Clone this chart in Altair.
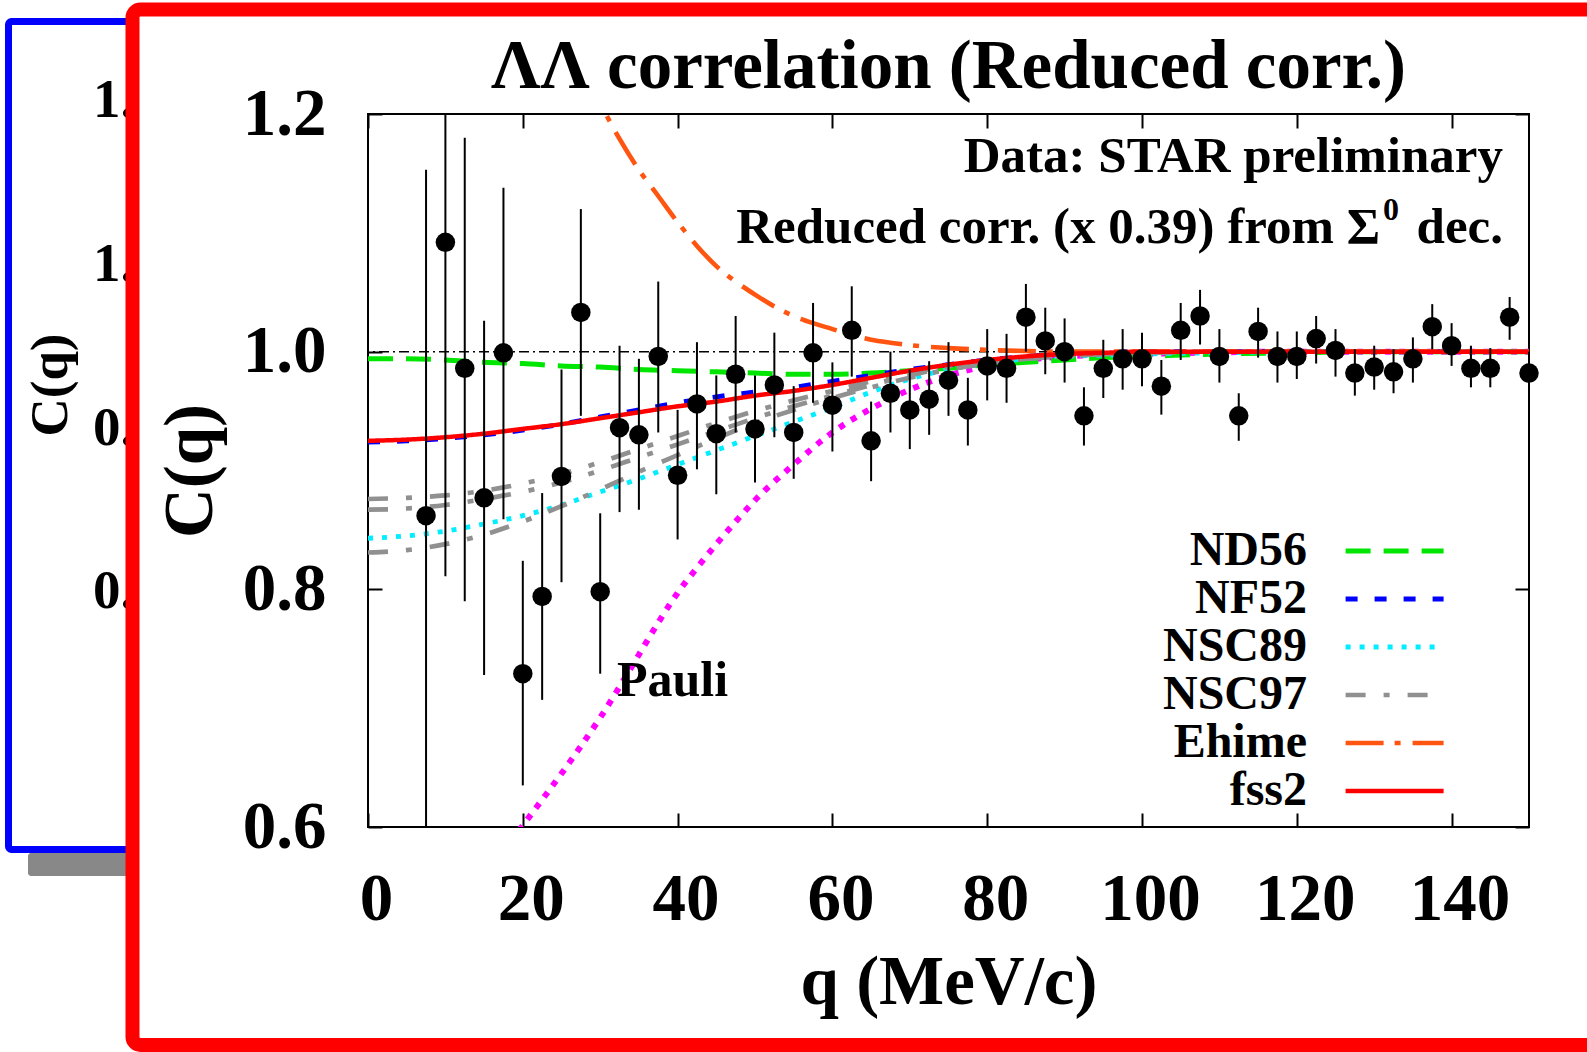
import altair as alt
import pandas as pd

SERIF = "Liberation Serif"

# ---------------- data ----------------
q_data = [7.5, 10, 12.5, 15, 17.5, 20, 22.5, 25, 27.5, 30, 32.5, 35, 37.5, 40, 42.5, 45,
          47.5, 50, 52.5, 55, 57.5, 60, 62.5, 65, 67.5, 70, 72.5, 75, 77.5, 80, 82.5, 85,
          87.5, 90, 92.5, 95, 97.5, 100, 102.5, 105, 107.5, 110, 112.5, 115, 117.5, 120,
          122.5, 125, 127.5, 130, 132.5, 135, 137.5, 140, 142.5, 145, 147.5, 150]
C_data = [0.862, 1.092, 0.986, 0.877, 0.999, 0.729, 0.794, 0.895, 1.033, 0.798, 0.936, 0.930,
          0.996, 0.896, 0.956, 0.931, 0.981, 0.935, 0.972, 0.932, 0.999, 0.955, 1.018, 0.925,
          0.965, 0.951, 0.960, 0.976, 0.951, 0.988, 0.986, 1.029, 1.009, 1.000, 0.946, 0.986,
          0.994, 0.994, 0.971, 1.018, 1.030, 0.996, 0.946, 1.017, 0.996, 0.996, 1.011, 1.001,
          0.982, 0.987, 0.983, 0.994, 1.021, 1.005, 0.986, 0.986, 1.029, 0.982]
C_lo = [0.560, 0.811, 0.790, 0.728, 0.859, 0.635, 0.707, 0.806, 0.946, 0.729, 0.865, 0.867,
        0.932, 0.842, 0.901, 0.880, 0.932, 0.890, 0.928, 0.893, 0.957, 0.916, 0.979, 0.891,
        0.932, 0.918, 0.930, 0.946, 0.921, 0.959, 0.957, 1.000, 0.981, 0.974, 0.921, 0.961,
        0.968, 0.971, 0.947, 0.993, 1.006, 0.974, 0.925, 0.995, 0.974, 0.977, 0.990, 0.979,
        0.963, 0.968, 0.965, 0.974, 1.002, 0.988, 0.970, 0.970, 1.010, 0.965]
C_hi = [1.153, 1.373, 1.180, 1.026, 1.138, 0.824, 0.881, 0.985, 1.120, 0.864, 1.005, 0.994,
        1.059, 0.951, 1.008, 0.980, 1.030, 0.980, 1.016, 0.971, 1.041, 0.991, 1.055, 0.958,
        1.000, 0.985, 0.992, 1.008, 0.978, 1.019, 1.015, 1.057, 1.037, 1.028, 0.970, 1.010,
        1.019, 1.016, 0.993, 1.041, 1.052, 1.019, 0.965, 1.037, 1.017, 1.017, 1.030, 1.019,
        1.002, 1.005, 1.002, 1.012, 1.040, 1.024, 1.005, 1.003, 1.046, 1.000]

q_curve = [0, 5, 10, 15, 20, 25, 30, 35, 40, 45, 50, 55, 60, 65, 70, 75, 80, 85, 90, 95,
           100, 110, 120, 130, 140, 150]
nd56 = [0.994, 0.994, 0.993, 0.991, 0.990, 0.988, 0.987, 0.985, 0.984, 0.983, 0.982, 0.981,
        0.981, 0.982, 0.984, 0.986, 0.989, 0.991, 0.993, 0.995, 0.996, 0.998, 0.999, 1.0, 1.0, 1.0]
nf52 = [0.924, 0.925, 0.927, 0.930, 0.934, 0.939, 0.945, 0.951, 0.957, 0.962, 0.966, 0.970,
        0.975, 0.980, 0.985, 0.989, 0.993, 0.996, 0.998, 0.999, 1.0, 1.0, 1.0, 1.0, 1.0, 1.0]
nsc89 = [0.843, 0.845, 0.849, 0.855, 0.862, 0.871, 0.882, 0.893, 0.905, 0.917, 0.929, 0.941,
         0.953, 0.966, 0.977, 0.985, 0.990, 0.994, 0.996, 0.997, 0.998, 0.999, 1.0, 1.0, 1.0, 1.0]
nsc97a = [0.876, 0.877, 0.879, 0.883, 0.889, 0.897, 0.907, 0.918, 0.929, 0.940, 0.950, 0.959,
          0.967, 0.975, 0.982, 0.988, 0.992, 0.995, 0.997, 0.998, 0.999, 1.0, 1.0, 1.0, 1.0, 1.0]
nsc97b = [0.867, 0.868, 0.871, 0.876, 0.882, 0.890, 0.900, 0.911, 0.922, 0.933, 0.944, 0.954,
          0.963, 0.972, 0.980, 0.987, 0.991, 0.994, 0.996, 0.998, 0.999, 1.0, 1.0, 1.0, 1.0, 1.0]
nsc97c = [0.831, 0.833, 0.838, 0.846, 0.857, 0.870, 0.884, 0.899, 0.913, 0.927, 0.940, 0.951,
          0.961, 0.970, 0.978, 0.985, 0.990, 0.994, 0.996, 0.998, 0.999, 1.0, 1.0, 1.0, 1.0, 1.0]
fss2 = [0.925, 0.926, 0.928, 0.931, 0.935, 0.939, 0.944, 0.949, 0.954, 0.958, 0.963, 0.967,
        0.972, 0.978, 0.984, 0.989, 0.993, 0.996, 0.998, 0.999, 1.0, 1.0, 1.0, 1.0, 1.0, 1.0]
q_ehime = [28, 30, 32.5, 35, 37.5, 40, 42.5, 45, 47.5, 50, 52.5, 55, 57.5, 60, 62.5, 65,
           67.5, 70, 75, 80, 85, 90, 100, 120, 150]
ehime = [1.235, 1.209, 1.179, 1.153, 1.131, 1.109, 1.089, 1.072, 1.059, 1.048, 1.038, 1.030,
         1.024, 1.019, 1.014, 1.010, 1.0075, 1.0055, 1.003, 1.0015, 1.0005, 1.0, 1.0, 1.0, 1.0]
q_pauli = [19.5, 22.5, 25, 27.5, 30, 32.5, 35, 37.5, 40, 42.5, 45, 47.5, 50, 55, 60, 65, 70,
           75, 80, 85, 90, 100, 120, 150]
pauli = [0.597, 0.623, 0.645, 0.668, 0.692, 0.718, 0.745, 0.772, 0.797, 0.818, 0.838, 0.857,
         0.875, 0.905, 0.932, 0.952, 0.968, 0.980, 0.988, 0.993, 0.996, 0.998, 1.0, 1.0]
ref_level = [1.0]

models = ["ND56", "NF52", "NSC89", "NSC97", "Ehime", "fss2"]
colors = ["#00e600", "#0000ff", "#00eeff", "#909090", "#ff5511", "#ff0000"]
dashes = [[25, 13], [12, 17], [5, 9], [20, 18, 6, 18], [38, 11, 6, 12], [1, 0]]
widths = [5, 4.5, 5, 5, 4.5, 9]

x_ticks = [0, 20, 40, 60, 80, 100, 120, 140]
y_ticks = [0.6, 0.8, 1.0, 1.2]

# ---------------- tables ----------------
pts = pd.DataFrame({"q": q_data, "C": C_data, "lo": C_lo, "hi": C_hi})

curve_sets = [
    ("ND56", "ND56", q_curve, nd56),
    ("NF52", "NF52", q_curve, nf52),
    ("NSC89", "NSC89", q_curve, nsc89),
    ("NSC97", "NSC97a", q_curve, nsc97a),
    ("NSC97", "NSC97b", q_curve, nsc97b),
    ("NSC97", "NSC97c", q_curve, nsc97c),
    ("Ehime", "Ehime", q_ehime, ehime),
    ("fss2", "fss2", q_curve, fss2),
]
rows = []
for model, line, qs, cs in curve_sets:
    for qq, cc in zip(qs, cs):
        rows.append({"model": model, "line": line, "q": qq, "C": cc})
curve_df = pd.DataFrame(rows)
pauli_df = pd.DataFrame({"q": q_pauli, "C": pauli})
ref_df = pd.DataFrame({"C": ref_level})

W, H = 1161, 713
xs = alt.Scale(domain=[0, 150], nice=False, zero=False)
ys = alt.Scale(domain=[0.6, 1.2], nice=False, zero=False)

x_axis = alt.Axis(orient="bottom", values=x_ticks, format="d", offset=-14, tickSize=14,
                  tickWidth=2, tickColor="black", domain=False, grid=False,
                  labelFont=SERIF, labelFontWeight="bold", labelFontSize=67,
                  labelColor="black", labelPadding=39, labelOffset=8, labelFlush=False,
                  labelOverlap=False, title="q (MeV/c)", titleFont=SERIF,
                  titleFontWeight="bold", titleFontSize=69, titleColor="black",
                  titleX=W / 2, titleY=190, titleBaseline="alphabetic")
y_axis = alt.Axis(orient="left", values=y_ticks, format=".1f", offset=-14, tickSize=14,
                  tickWidth=2, tickColor="black", domain=False, grid=False,
                  labelFont=SERIF, labelFontWeight="bold", labelFontSize=67,
                  labelColor="black", labelPadding=42, labelFlush=False, labelOverlap=False,
                  title="C(q)", titleFont=SERIF, titleFontWeight="bold", titleFontSize=69,
                  titleColor="black", titleX=-171, titleY=H / 2, titleAngle=270,
                  titleBaseline="alphabetic")
x_axis_top = alt.Axis(orient="top", values=x_ticks, offset=-14, tickSize=14, tickWidth=2,
                      tickColor="black", domain=False, grid=False, labels=False, title=None)
y_axis_right = alt.Axis(orient="right", values=y_ticks, offset=-14, tickSize=14, tickWidth=2,
                        tickColor="black", domain=False, grid=False, labels=False, title=None)

X = alt.X("q:Q", scale=xs, axis=x_axis)
Y = alt.Y("C:Q", scale=ys, axis=y_axis)

one = pd.DataFrame({"k": [0]})


def text_mark(txt, x, y, size, align="left", baseline="alphabetic", angle=0):
    return alt.Chart(pd.DataFrame({"t": [txt]})).mark_text(
        align=align, baseline=baseline, fontSize=size, font=SERIF, fontWeight="bold",
        color="black", angle=angle
    ).encode(x=alt.value(x), y=alt.value(y), text="t:N")


# ---------------- decorations (slide frames) ----------------
shadow = alt.Chart(one).mark_rect(color="#888888", cornerRadius=3).encode(
    x=alt.value(-340), x2=alt.value(-236), y=alt.value(739), y2=alt.value(762))
blue_frame = alt.Chart(one).mark_rect(filled=False, stroke="#0000ff", strokeWidth=7,
                                      cornerRadius=3).encode(
    x=alt.value(-359.5), x2=alt.value(-236), y=alt.value(-92.5), y2=alt.value(735.5))
blue_texts = [text_mark(t, -275, yy, 55, baseline="middle")
              for t, yy in [("1.", -14), ("1.", 150), ("0.", 314), ("0.", 477)]]
blue_title = text_mark("C(q)", -301, 271, 53, align="center", angle=270)
red_frame = alt.Chart(one).mark_rect(filled=False, stroke="#ff0000", strokeWidth=14,
                                     cornerRadius=8).encode(
    x=alt.value(-235.5), x2=alt.value(1250), y=alt.value(-104.5), y2=alt.value(931))

# ---------------- plot content ----------------
ref_line = alt.Chart(ref_df).mark_rule(color="black", strokeWidth=1.5,
                                       strokeDash=[10, 4, 2, 4]).encode(y=Y)

pauli_line = alt.Chart(pauli_df).mark_line(color="#ff00ff", strokeWidth=6, strokeDash=[6, 8],
                                           clip=True, interpolate="monotone").encode(x=X, y=Y)

# legend: labels on the left, line samples to their right (custom offset stroke symbol)
leg = alt.Legend(orient="none", legendX=891, legendY=413, title=None,
                 symbolType="M6.26,0L16.06,0", symbolSize=400, rowPadding=0, padding=0,
                 labelAlign="right", labelOffset=0, symbolOffset=0, labelFont=SERIF,
                 labelFontWeight="bold", labelFontSize=48, labelColor="black",
                 labelLimit=0, labelBaseline="middle")

color_enc = alt.Color("model:N", scale=alt.Scale(domain=models, range=colors), legend=leg)
dash_enc = alt.StrokeDash("model:N", scale=alt.Scale(domain=models, range=dashes), legend=leg)
width_enc = alt.StrokeWidth("model:N", scale=alt.Scale(domain=models, range=widths), legend=leg)

curve_layers = [
    alt.Chart(curve_df).transform_filter(alt.datum.model == m)
    .mark_line(clip=True, interpolate="monotone")
    .encode(x=X, y=Y, color=color_enc, strokeDash=dash_enc, strokeWidth=width_enc,
            detail="line:N")
    for m in models
]

err = alt.Chart(pts).mark_rule(color="black", strokeWidth=2, clip=True).encode(
    x=X, y=alt.Y("lo:Q", scale=ys, axis=y_axis), y2="hi:Q")
dots = alt.Chart(pts).mark_circle(size=380, color="black", opacity=1).encode(x=X, y=Y)

title_txt = text_mark("ΛΛ correlation (Reduced corr.)", W / 2, -26, 69, align="center")
data_txt = text_mark("Data: STAR preliminary", 1135, 57.7, 51, align="right")
red_txt1 = text_mark("Reduced corr. (x 0.39) from Σ", 1012, 129.3, 51, align="right")
red_txt2 = text_mark("0", 1015, 106, 32, align="left")
red_txt3 = text_mark("dec.", 1135, 129.3, 51, align="right")
pauli_txt = text_mark("Pauli", 249, 582, 50, align="left")

main = alt.layer(
    shadow, blue_frame, *blue_texts, blue_title, red_frame,
    ref_line, pauli_line, *curve_layers, err, dots,
    title_txt, data_txt, red_txt1, red_txt2, red_txt3, pauli_txt,
)

mirror = alt.Chart(pts).mark_point(opacity=0).encode(
    x=alt.X("q:Q", scale=xs, axis=x_axis_top),
    y=alt.Y("C:Q", scale=ys, axis=y_axis_right),
)

chart = alt.layer(main, mirror).resolve_scale(x="independent", y="independent").properties(
    width=W, height=H,
    autosize=alt.AutoSizeParams(type="none"),
    padding={"left": 368, "top": 114, "right": 58, "bottom": 225},
    background="white",
).configure_view(stroke="black", strokeWidth=2)

chart.save("out.html", embed_options={"renderer": "svg", "actions": False})
